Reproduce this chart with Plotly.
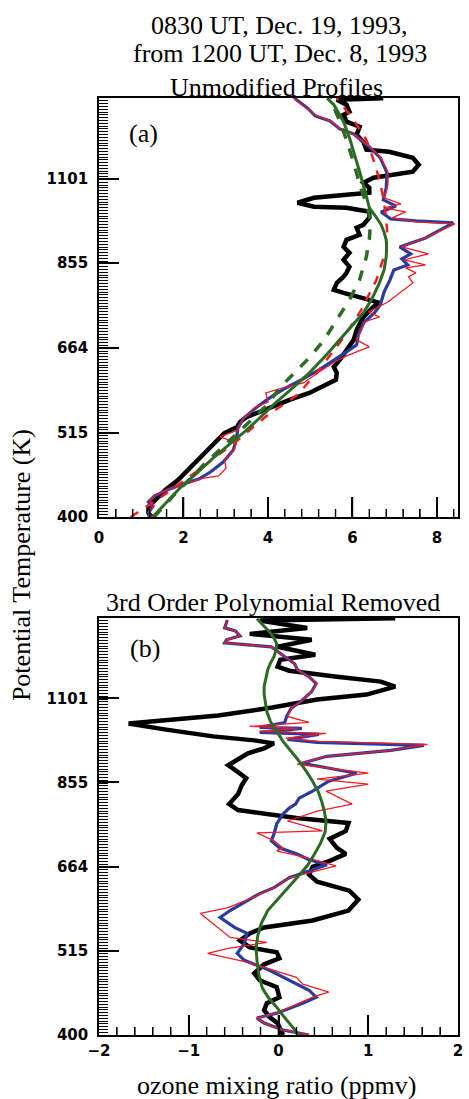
import numpy as np
import plotly.graph_objects as go

# ---------------- Panel (a): unmodified profiles ----------------
black_a_theta = [400.0, 404.8, 412.2, 420.9, 433.7, 446.9, 464.6, 488.9, 514.4, 523.7, 531.7, 539.7, 551.1, 567.9,
                 579.9, 603.0, 615.7, 626.9, 640.2, 659.6, 679.7, 700.4, 728.2, 750.4, 759.4, 766.3, 773.2, 782.5,
                 789.5, 806.3, 820.9, 830.8, 845.9, 863.8, 882.1, 898.1, 917.1, 931.0, 950.7, 959.3, 979.6, 997.4,
                 1009.4, 1012.4, 1024.6, 1040.1, 1049.5, 1055.7, 1071.7, 1087.8, 1104.3, 1114.3, 1124.3, 1148.1,
                 1172.5, 1193.7, 1200.9, 1230.0, 1256.1, 1286.6, 1306.0, 1333.6, 1345.7, 1374.2, 1394.9, 1401.0]
black_a_ppmv = [1.25, 1.17, 1.17, 1.33, 1.57, 1.87, 2.17, 2.57, 2.97, 3.27, 3.34, 3.50, 3.90, 4.51,
                4.98, 5.61, 5.63, 5.56, 5.70, 5.86, 6.03, 6.10, 6.26, 6.50, 6.64, 6.40, 6.10, 5.79,
                5.56, 5.63, 5.79, 5.86, 5.93, 5.79, 5.93, 5.79, 5.86, 6.17, 6.10, 6.26, 6.40, 6.40,
                5.86, 5.09, 4.70, 5.09, 5.86, 6.40, 6.40, 6.26, 6.50, 6.96, 7.43, 7.57,
                7.43, 6.87, 6.33, 6.26, 6.10, 6.17, 5.86, 5.79, 5.93, 5.86, 5.63, 6.73]

blue_a_theta = [400.0, 404.8, 412.2, 418.4, 426.0, 433.7, 441.6, 448.2, 457.7, 471.6, 488.9, 503.8, 522.2, 538.1,
                554.4, 571.3, 588.6, 602.9, 621.3, 639.7, 655.6, 669.5, 689.8, 717.2, 736.8, 754.6, 784.6, 813.4,
                838.0, 850.6, 866.0, 879.1, 897.7, 922.3, 964.6, 970.4, 976.2, 996.9, 1015.0, 1033.3, 1071.2,
                1120.3, 1171.8, 1211.0, 1259.1, 1278.1, 1309.0, 1328.8, 1361.0, 1401.0]
blue_a_ppmv = [1.19, 1.17, 1.26, 1.17, 1.31, 1.61, 1.99, 2.36, 2.64, 2.94, 3.18, 3.25, 3.29, 3.43,
               3.71, 4.04, 4.42, 4.79, 5.21, 5.58, 5.86, 6.10, 6.14, 6.28, 6.52, 6.66, 6.75, 6.89,
               6.98, 7.31, 7.17, 7.38, 7.12, 7.73, 8.39, 7.50, 6.91, 6.68, 7.03, 6.73, 6.80,
               6.82, 6.66, 6.40, 6.03, 5.70, 5.47, 5.12, 4.93, 4.63]

red_a_theta = [400.0, 406.0, 413.4, 420.9, 428.5, 436.3, 442.9, 449.5, 452.3, 463.2, 474.4, 488.9, 499.2, 508.3,
               519.1, 534.8, 554.4, 564.4, 579.9, 588.6, 597.5, 617.5, 636.2, 647.8, 665.5, 679.6, 700.2, 717.2,
               728.0, 739.0, 761.4, 806.0, 820.6, 830.5, 843.0, 850.6, 863.4, 879.1, 897.7, 925.0, 961.7, 967.5,
               979.2, 996.9, 1008.9, 1021.0, 1039.6, 1080.9, 1123.7, 1171.8, 1211.0, 1255.3, 1278.1, 1309.0,
               1332.8, 1365.1, 1401.0]
red_a_ppmv = [1.24, 1.19, 1.31, 1.19, 1.38, 1.71, 2.13, 2.48, 2.83, 3.01, 2.97, 3.20, 3.25, 2.87,
              3.29, 3.39, 3.67, 4.00, 3.95, 4.35, 4.84, 5.21, 5.58, 5.86, 6.40, 6.10, 6.21, 6.28,
              6.64, 6.38, 6.84, 7.43, 7.33, 7.50, 7.26, 7.73, 7.22, 7.80, 7.17, 7.78, 8.43, 7.50,
              6.94, 7.26, 6.75, 7.15, 6.75, 6.84, 6.84, 6.68, 6.42, 6.05, 5.72, 5.47,
              5.12, 4.88, 4.60]

fit_a_theta = [400.0, 418.0, 437.6, 458.0, 478.7, 499.0, 519.1, 541.0, 562.8, 587.0, 612.0, 645.0, 679.7, 707.0,
               737.0, 770.0, 806.3, 838.0, 871.6, 895.0, 917.1, 938.0, 959.3, 984.0, 1009.4, 1045.0, 1081.4,
               1120.0, 1158.5, 1200.0, 1244.8, 1306.0, 1374.2, 1401.0]
fit_a_ppmv = [1.27, 1.61, 1.94, 2.35, 2.73, 3.12, 3.50, 3.85, 4.18, 4.56, 4.93, 5.33, 5.70, 5.99,
              6.26, 6.47, 6.64, 6.75, 6.80, 6.81, 6.80, 6.75, 6.68, 6.55, 6.40, 6.33, 6.26,
              6.18, 6.10, 6.02, 5.93, 5.79, 5.56, 5.40]

fitdash_a_theta = [400.0, 424.7, 447.0, 470.2, 492.0, 514.4, 535.0, 556.1, 590.4, 615.7, 646.0, 679.7, 721.7,
                   766.3, 813.6, 871.6, 918.0, 967.9, 1015.0, 1065.3, 1150.0, 1237.4, 1320.0, 1401.0]
fitdash_a_ppmv = [1.30, 1.73, 2.13, 2.52, 2.91, 3.29, 3.62, 3.93, 4.30, 4.63, 5.00, 5.33, 5.63,
                  5.93, 6.17, 6.33, 6.40, 6.43, 6.35, 6.21, 6.04, 5.86, 5.67, 5.47]

reddash_a_theta = [400.0, 427.2, 460.5, 503.8, 543.0, 576.5, 621.3, 679.7, 743.6, 813.6, 890.0, 930.0, 973.7,
                   1035.0, 1097.7, 1165.0, 1237.4, 1320.0, 1401.0]
reddash_a_ppmv = [0.75, 1.54, 2.36, 3.29, 4.00, 4.70, 5.21, 5.75, 6.21, 6.57, 6.80, 6.83, 6.80,
                  6.74, 6.64, 6.50, 6.33, 6.00, 5.63]

# ---------------- Panel (b): 3rd order polynomial removed ----------------
black_b_theta = [1401.0, 1391.6, 1361.0, 1336.8, 1313.0, 1285.8, 1255.3, 1236.7, 1211.0, 1196.6, 1175.3, 1157.9,
                 1140.7, 1113.7, 1097.1, 1071.2, 1045.8, 1030.3, 1021.0, 1003.0, 982.1, 970.4, 961.7, 947.4,
                 933.4, 916.7, 900.4, 881.8, 866.0, 848.0, 825.5, 801.2, 786.9, 768.3, 756.8, 739.0, 721.5,
                 702.3, 689.8, 675.5, 663.5, 647.8, 634.3, 617.5, 601.1, 581.6, 564.4, 552.8, 543.0, 531.6,
                 520.6, 512.9, 503.7, 494.8, 481.6, 471.6, 461.9, 448.2, 440.2, 431.1, 422.2, 414.6, 400.0]
black_b_ppmv = [1.30, -0.21, 0.32, -0.32, 0.37, -0.01, 0.41, 0.02, -0.01, 0.12, 0.65, 1.14,
                1.30, 0.98, 0.43, -0.07, -0.67, -1.33, -1.67, -1.27, -0.73, -0.27, -0.05, -0.16,
                -0.34, -0.45, -0.56, -0.45, -0.36, -0.41, -0.45, -0.55, -0.45, 0.20, 0.78, 0.75, 0.57,
                0.65, 0.75, 0.57, 0.38, 0.34, 0.43, 0.79, 0.89, 0.78, 0.38, -0.16, -0.32, -0.43,
                -0.32, -0.02, 0.01, -0.16, -0.27, -0.21, -0.02, 0.01, -0.13, -0.16, -0.10, -0.01, 0.05]

blue_b_theta = [1393.9, 1361.0, 1348.9, 1328.8, 1313.0, 1301.2, 1293.5, 1285.8, 1247.8, 1221.9, 1200.2, 1175.3,
                1151.0, 1123.7, 1093.9, 1068.0, 1042.7, 1024.1, 1008.9, 1005.9, 993.9, 988.0, 973.3, 964.6,
                956.0, 941.8, 925.0, 905.9, 879.1, 858.3, 833.0, 815.7, 801.2, 791.7, 777.6, 754.6, 732.4,
                717.2, 702.3, 689.8, 677.5, 667.5, 641.9, 623.1, 612.0, 599.3, 581.6, 569.6, 552.8, 543.0,
                526.9, 511.4, 500.7, 486.0, 471.6, 457.7, 448.2, 440.2, 427.2, 420.9, 414.6, 406.0, 400.0]
blue_b_ppmv = [-0.57, -0.60, -0.48, -0.43, -0.58, -0.60, -0.34, -0.08, 0.07, 0.18, 0.21, 0.34,
               0.42, 0.37, 0.26, 0.14, 0.09, 0.07, -0.21, 0.26, -0.21, 0.45, 0.10, 0.43,
               1.62, 1.25, 0.54, 0.26, 0.87, 0.56, 0.38, 0.23, 0.19, 0.12, 0.05, -0.02, -0.05,
               -0.08, 0.01, 0.20, 0.34, 0.54, 0.12, -0.05, -0.21, -0.34, -0.54, -0.65, -0.49, -0.35,
               -0.38, -0.46, -0.38, -0.10, 0.12, 0.34, 0.42, 0.27, -0.02, -0.24, -0.16, 0.05, 0.34]

red_b_theta = [1393.9, 1361.0, 1348.9, 1328.8, 1313.0, 1301.2, 1293.5, 1285.8, 1247.8, 1221.9, 1200.2, 1175.3,
               1151.0, 1123.7, 1093.9, 1068.0, 1042.7, 1024.1, 1011.9, 1005.9, 996.9, 991.0, 976.2, 967.5,
               958.8, 941.8, 925.0, 903.1, 879.1, 863.4, 850.6, 833.0, 801.2, 784.6, 761.4, 739.0, 734.6,
               717.2, 702.3, 696.0, 681.6, 665.5, 641.9, 623.1, 604.6, 586.9, 576.5, 536.5, 528.5, 519.1,
               511.4, 497.7, 475.8, 466.0, 455.0, 448.2, 440.2, 427.2, 420.9, 414.6, 406.0, 400.0]
red_b_ppmv = [-0.57, -0.60, -0.48, -0.43, -0.58, -0.60, -0.34, -0.08, 0.07, 0.18, 0.21, 0.34,
              0.43, 0.37, 0.26, 0.14, 0.10, 0.34, -0.32, 0.21, -0.21, 0.53, 0.08, 0.45,
              1.66, 1.25, 0.54, 0.21, 1.00, 0.43, 1.00, 0.53, 0.82, 0.43, 0.10, 0.49, -0.24,
              -0.05, 0.05, -0.02, 0.32, 0.64, 0.12, -0.05, -0.29, -0.56, -0.87, -0.54, -0.13, -0.56,
              -0.79, -0.34, 0.20, 0.27, 0.56, 0.38, 0.23, -0.02, -0.24, -0.16, 0.05, 0.34]

fit_b_theta = [1399.0, 1370.0, 1344.8, 1320.0, 1297.3, 1272.0, 1247.8, 1224.0, 1200.2, 1170.0, 1140.7, 1115.0,
               1090.6, 1058.0, 1027.2, 997.0, 967.5, 939.0, 911.3, 884.0, 858.3, 833.0, 808.4, 785.0, 761.4,
               737.0, 712.9, 689.0, 665.5, 643.0, 621.3, 601.0, 581.6, 560.0, 539.7, 520.0, 500.7, 480.0,
               460.5, 447.0, 434.9, 424.0, 414.6, 407.0, 400.0]
fit_b_ppmv = [-0.24, -0.16, -0.10, -0.05, -0.02, -0.03, -0.05, -0.09, -0.12, -0.14, -0.16, -0.16,
              -0.15, -0.13, -0.09, -0.02, 0.05, 0.14, 0.23, 0.31, 0.38, 0.44, 0.48, 0.51, 0.53,
              0.52, 0.47, 0.40, 0.32, 0.21, 0.10, -0.01, -0.12, -0.19, -0.23, -0.25, -0.24, -0.22,
              -0.18, -0.11, -0.02, 0.05, 0.12, 0.18, 0.23]

theta_ticks = [400, 515, 664, 855, 1101]
xa_ticks = [0, 2, 4, 6, 8]
xb_ticks = [-2, -1, 0, 1, 2]

BLACK = "#000000"
BLUE = "#2a3b9e"
RED = "#f01c24"
GREEN = "#2d6a24"

fig = go.Figure()


def add(x, y, color, width, xa, ya, dash="solid"):
    fig.add_trace(go.Scatter(x=x, y=y, mode="lines", xaxis=xa, yaxis=ya, showlegend=False,
                             line=dict(color=color, width=width, dash=dash)))


# panel (a)
add(black_a_ppmv, black_a_theta, BLACK, 4.5, "x", "y")
add(blue_a_ppmv, blue_a_theta, BLUE, 3.2, "x", "y")
add(red_a_ppmv, red_a_theta, RED, 1.3, "x", "y")
add(reddash_a_ppmv, reddash_a_theta, RED, 2.5, "x", "y", dash="dash")
add(fitdash_a_ppmv, fitdash_a_theta, GREEN, 3.5, "x", "y", dash="dash")
add(fit_a_ppmv, fit_a_theta, GREEN, 3.0, "x", "y")

# panel (b)
add(black_b_ppmv, black_b_theta, BLACK, 4.5, "x2", "y2")
add(blue_b_ppmv, blue_b_theta, BLUE, 3.2, "x2", "y2")
add(red_b_ppmv, red_b_theta, RED, 1.3, "x2", "y2")
add(fit_b_ppmv, fit_b_theta, GREEN, 3.0, "x2", "y2")

THETA_MIN, THETA_MAX = 400.0, 1402.0
lo, hi = np.log10(THETA_MIN), np.log10(THETA_MAX)
minor_theta = [float(v) for v in np.geomspace(THETA_MIN, THETA_MAX, 150)]
tickfont = dict(family="DejaVu Sans", size=15, color="black", weight="bold")
serif = "Liberation Serif"

# figure geometry (pixels) used for the bottom-axis tick decorations
FIG_H, M_T, M_B = 1099, 98, 64
PLOT_H = FIG_H - M_T - M_B
DOM_A = [0.5528, 1.0]
DOM_B = [0.0, 0.445]


def xaxis_cfg(anchor, rng, vals, standoff, minor_step):
    return dict(showgrid=False, zeroline=False, showline=True, mirror=True, linecolor="black",
                linewidth=1.6, ticks="inside", ticklen=20, tickwidth=1.6, tickcolor="black",
                tickfont=dict(tickfont), domain=[0, 1], anchor=anchor, range=rng, tickmode="array",
                tickvals=vals, ticklabelstandoff=standoff,
                minor=dict(tick0=0, dtick=minor_step, ticks="inside", ticklen=8, tickwidth=1.4,
                           tickcolor="black", showgrid=False))


def yaxis_cfg(anchor, dom):
    return dict(showgrid=False, zeroline=False, showline=True, mirror=True, linecolor="black",
                linewidth=1.6, ticks="inside", ticklen=20, tickwidth=1.6, tickcolor="black",
                tickfont=dict(tickfont), domain=dom, anchor=anchor, type="log", range=[lo, hi],
                tickmode="array", tickvals=theta_ticks, ticklabelstandoff=6,
                minor=dict(tickmode="array", tickvals=list(minor_theta), ticks="inside", ticklen=9,
                           tickwidth=1.0, tickcolor="black", showgrid=False))


# bottom-axis tick marks drawn as line segments through the axes' own scales
def tick_trace(vals, len_px, dom, xa, ya, width):
    px_per_decade = (dom[1] - dom[0]) * PLOT_H / (hi - lo)
    top = THETA_MIN * 10 ** (len_px / px_per_decade)
    xs, ys = [], []
    for v in vals:
        xs += [v, v, None]
        ys += [THETA_MIN, top, None]
    fig.add_trace(go.Scatter(x=xs, y=ys, mode="lines", xaxis=xa, yaxis=ya, showlegend=False,
                             hoverinfo="skip", line=dict(color="black", width=width)))


a_minor = [round(0.4 * i, 2) for i in range(1, 22) if i % 5 != 0]
a_major = [v for v in xa_ticks if 0 < v < 8.5]
b_minor = [round(-2 + 0.2 * i, 2) for i in range(1, 20) if i % 5 != 0]
b_major = [v for v in xb_ticks if -2 < v < 2]
tick_trace(a_minor, 8, DOM_A, "x", "y", 1.4)
tick_trace(a_major, 20, DOM_A, "x", "y", 1.6)
tick_trace(b_minor, 8, DOM_B, "x2", "y2", 1.4)
tick_trace(b_major, 20, DOM_B, "x2", "y2", 1.6)

fig.update_layout(
    width=469, height=FIG_H,
    margin=dict(l=99, r=6, t=M_T, b=M_B),
    paper_bgcolor="white", plot_bgcolor="white",
    xaxis=xaxis_cfg("y", [0, 8.5], xa_ticks, 6, 0.4),
    yaxis=yaxis_cfg("x", DOM_A),
    xaxis2=xaxis_cfg("y2", [-2, 2], xb_ticks, 1, 0.2),
    yaxis2=yaxis_cfg("x2", DOM_B),
)

ann = [
    dict(text="0830 UT, Dec. 19, 1993,", x=0.503, y=1.0779),
    dict(text="from 1200 UT, Dec. 8, 1993", x=0.503, y=1.048),
    dict(text="Unmodified Profiles", x=0.495, y=1.0117),
    dict(text="3rd Order Polynomial Removed", x=0.486, y=0.4621),
    dict(text="ozone mixing ratio (ppmv)", x=0.495, y=-0.0534),
    dict(text="(a)", x=0.124, y=0.9616),
    dict(text="(b)", x=0.129, y=0.413),
]
for a in ann:
    fig.add_annotation(xref="paper", yref="paper", xanchor="center", yanchor="middle",
                       showarrow=False, font=dict(family=serif, size=26, color="black"), **a)

fig.add_annotation(text="Potential Temperature (K)", xref="paper", yref="paper", x=-0.217, y=0.5016,
                   xanchor="center", yanchor="middle", textangle=-90, showarrow=False,
                   font=dict(family=serif, size=26, color="black"))

fig.write_html("out.html")
